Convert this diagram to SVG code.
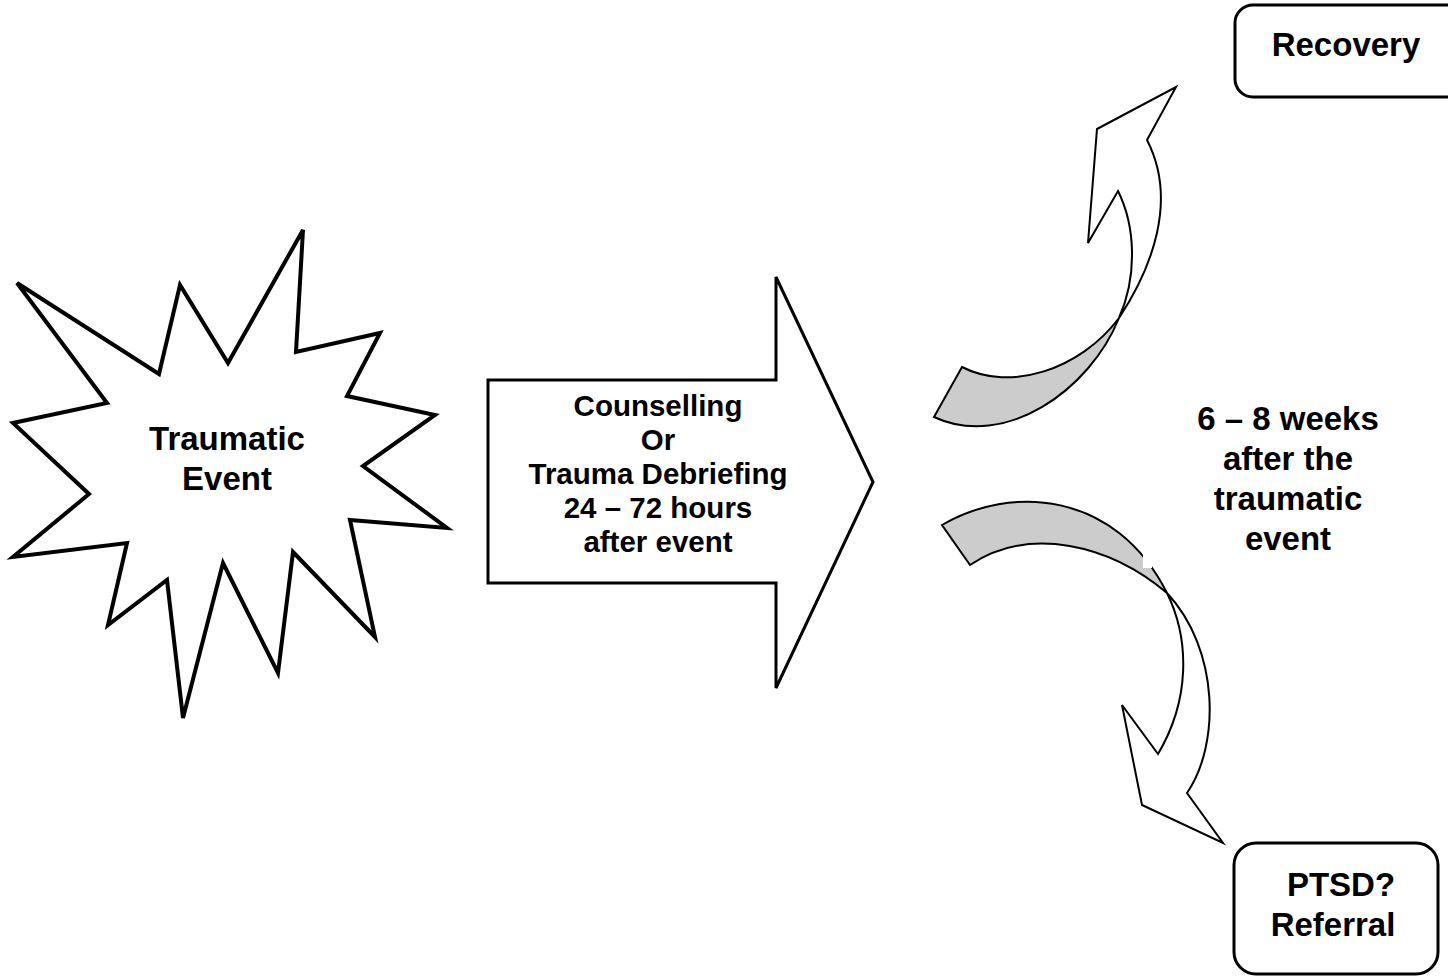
<svg xmlns="http://www.w3.org/2000/svg" width="1448" height="977" viewBox="0 0 1448 977">
<style>
.t{font-family:"Liberation Sans",Arial,sans-serif;font-weight:bold;fill:#000;text-anchor:middle}
.big{font-size:33px}
.mid{font-size:29.5px}
.box{fill:#fff;stroke:#000;stroke-width:3}
.curve{stroke:#000;stroke-width:2;stroke-linejoin:miter}
</style>
<rect width="1448" height="977" fill="#fff"/>
<g id="traumatic-event">
<polygon points="17,283 159,374 180,285 228,363 303,230 296,352 380,333 347,396 435,415 363,466 447,528 350,520 375,637 293,552 278,673 223,563 183,718 167,580 108,625 127,543 13,557 89,494 13,423 107,403" fill="#fff" stroke="#000" stroke-width="4" stroke-linejoin="miter"/>
<text class="t big" x="227" y="450">Traumatic</text>
<text class="t big" x="227" y="490">Event</text>
</g>
<g id="counselling">
<polygon points="488,380 776,380 776,277 873,482 776,688 776,583 488,583" fill="#fff" stroke="#000" stroke-width="3"/>
<text class="t mid" x="658" y="416">Counselling</text>
<text class="t mid" x="658" y="450">Or</text>
<text class="t mid" x="658" y="484">Trauma Debriefing</text>
<text class="t mid" x="658" y="518">24 – 72 hours</text>
<text class="t mid" x="658" y="552">after event</text>
</g>
<g id="connectors">
<g id="arrow-recovery">
<path class="curve" d="M934,417 L962,367 C1010,392 1080,370 1119,318 C1090,390 1005,450 934,417 Z" fill="#ccc"/>
<path class="curve" d="M1119,318 C1152,268 1178,200 1147,140 L1176,87 L1097,129 L1088,243 L1118,191 C1135,225 1138,275 1119,318 Z" fill="#fff"/>
</g>
<g id="arrow-ptsd">
<path class="curve" d="M942,525 C1010,485 1115,490 1167,593 C1110,545 1030,525 970,565 Z" fill="#ccc"/>
<rect x="1143" y="553" width="9" height="15" fill="#fff"/>
<path class="curve" d="M1167,593 C1190,640 1190,700 1158,754 L1122,705 L1142,805 L1223,843 L1187,793 C1220,745 1220,650 1167,593 Z" fill="#fff"/>
</g>
</g>
<g id="timing">
<text class="t big" x="1288" y="430">6 – 8 weeks</text>
<text class="t big" x="1288" y="470">after the</text>
<text class="t big" x="1288" y="510">traumatic</text>
<text class="t big" x="1288" y="550">event</text>
</g>
<g id="recovery">
<rect class="box" x="1235" y="5" width="240" height="92" rx="18"/>
<text class="t big" x="1346" y="56">Recovery</text>
</g>
<g id="ptsd">
<rect class="box" x="1234" y="843" width="204" height="131" rx="22"/>
<text class="t big" x="1341" y="896">PTSD?</text>
<text class="t big" x="1333" y="936">Referral</text>
</g>
</svg>
